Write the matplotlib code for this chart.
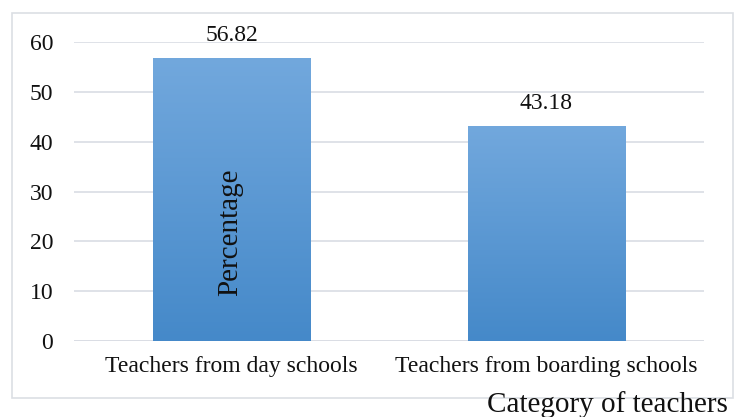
import numpy as np
import matplotlib
matplotlib.use("Agg")
from matplotlib import pyplot as plt
from matplotlib.patches import Rectangle

categories = ["Teachers from day schools", "Teachers from boarding schools"]
values = [56.82, 43.18]
yticks = [0, 10, 20, 30, 40, 50, 60]

plt.rcParams['font.family'] = ['Liberation Serif', 'DejaVu Serif']

W, H = 734, 417
fig = plt.figure(figsize=(W / 100, H / 100), dpi=100)
ax = fig.add_axes([74 / W, 76 / H, 630 / W, 299 / H])

x = np.arange(len(categories))
bars = ax.bar(x, values, width=0.5, color='none', edgecolor='none', zorder=3)

# vertical gradient, lighter at the top
top = np.array([114, 168, 221]) / 255
bot = np.array([69, 137, 201]) / 255
t = np.linspace(0, 1, 256)[:, None]
grad = (top * (1 - t) + bot * t)[:, None, :].repeat(2, axis=1)
for b in bars:
    x0, y0 = b.get_x(), b.get_y()
    img = ax.imshow(grad, extent=[x0, x0 + b.get_width(), y0, y0 + b.get_height()],
                    aspect='auto', zorder=3, interpolation='bilinear')
    img.set_clip_path(b)
    ax.annotate(f"{b.get_height():.2f}", (x0 + b.get_width() / 2, b.get_height()),
                xytext=(0, 8.5), textcoords='offset points', ha='center', va='bottom',
                fontsize=17, color='#111111', annotation_clip=False)

ax.set_xlim(-0.5, 1.5)
ax.set_ylim(0, 60)
ax.set_yticks(yticks)
ax.set_xticks(x)
ax.set_xticklabels(categories)
for s in ax.spines.values():
    s.set_visible(False)
ax.grid(axis='y', color='#d9dde4', linewidth=1.2, zorder=0)
ax.axhline(0, color='#d9dde4', linewidth=1.2, zorder=1)
ax.tick_params(axis='both', length=0, labelsize=17, colors='#111111')
ax.tick_params(axis='y', pad=15)
ax.tick_params(axis='x', pad=11)

fig.patches.append(Rectangle((12 / W, 19 / H), 721 / W, 385 / H, transform=fig.transFigure,
                             fill=False, edgecolor='#dcdfe4', linewidth=1.2))

fig.text(230 / W, (H - 232) / H, "Percentage", rotation=90, ha='center', va='center',
         fontsize=21, color='#111111')
fig.text(728 / W, 5 / H, "Category of teachers", ha='right', va='baseline',
         fontsize=21, color='#111111')

fig.savefig("out.png", dpi=100)
